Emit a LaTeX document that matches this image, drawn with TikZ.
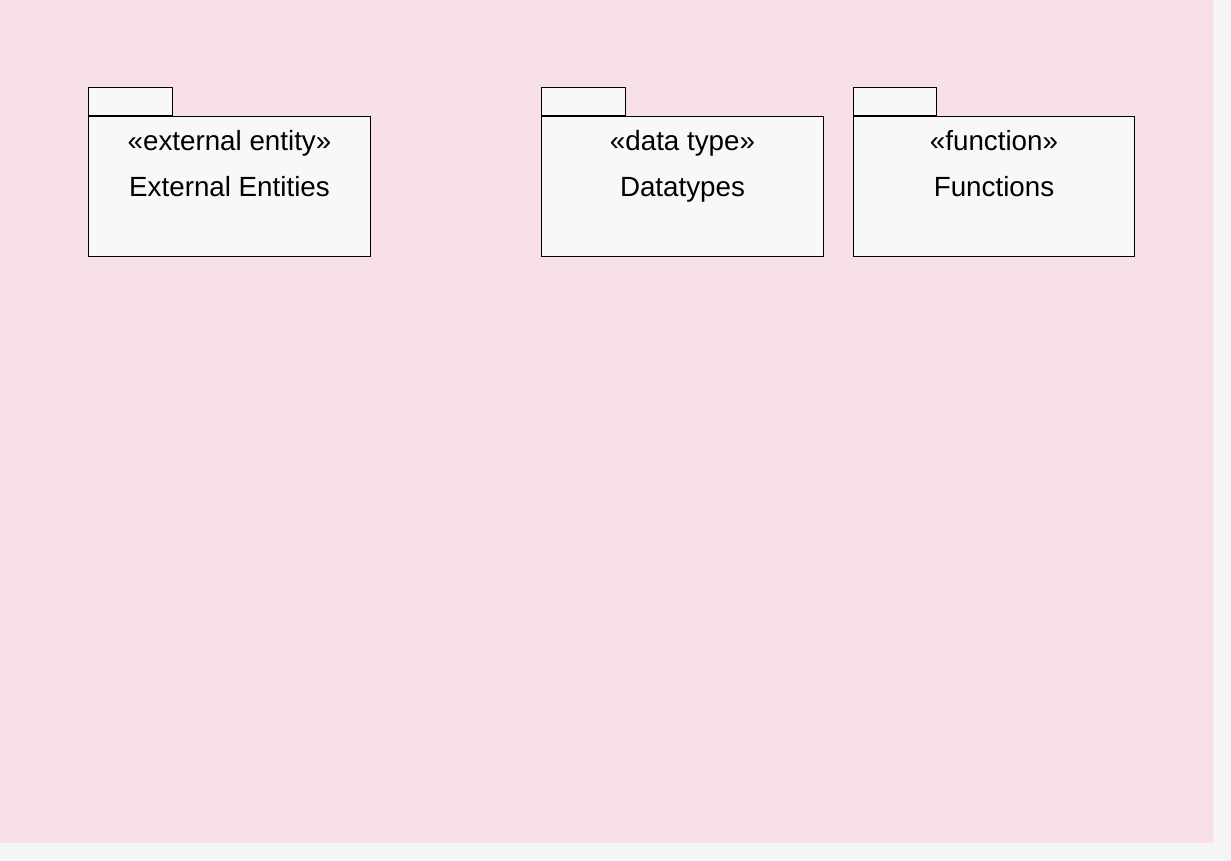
\documentclass[tikz,border=0pt]{standalone}
\usepackage{fontspec}
\setmainfont{Liberation Sans}
\definecolor{diagpink}{RGB}{247,224,230}
\definecolor{pkgfill}{RGB}{248,248,248}
\definecolor{pagegray}{RGB}{245,245,245}
\usetikzlibrary{positioning,calc}

\begin{document}
\begin{tikzpicture}[x=0.02cm, y=-0.02cm,
    pkgbody/.style={draw, line width=0.6pt, fill=pkgfill, minimum width=5.64cm,
                minimum height=2.8cm, inner sep=0pt, anchor=north west},
    pkgtab/.style={draw, line width=0.6pt, fill=pkgfill, minimum width=1.68cm,
                minimum height=0.56cm, inner sep=0pt, anchor=south west},
    pkgtext/.style={anchor=base, font=\fontsize{15.8}{19}\selectfont, inner sep=0pt}
  ]
    % Page and diagram area
    \fill[pagegray] (0,0) rectangle (1231,861);
    \fill[diagpink] (0,0) rectangle (1213,843);

    % External entities package
    \node[pkgbody] (extbody) at (88,116) {};
    \node[pkgtab]  (exttab)  at (extbody.north west) {};
    \node[pkgtext] (extster) at ($(extbody.north)+(0,35)$) {«external entity»};
    \node[pkgtext] (extname) at ($(extbody.north)+(0,81)$) {External Entities};

    % Datatypes package
    \node[pkgbody] (dtbody) at (541,116) {};
    \node[pkgtab]  (dttab)  at (dtbody.north west) {};
    \node[pkgtext] (dtster) at ($(dtbody.north)+(0,35)$) {«data type»};
    \node[pkgtext] (dtname) at ($(dtbody.north)+(0,81)$) {Datatypes};

    % Functions package
    \node[pkgbody, minimum width=5.62cm] (fnbody) at (853,116) {};
    \node[pkgtab, minimum width=1.66cm]  (fntab)  at (fnbody.north west) {};
    \node[pkgtext] (fnster) at ($(fnbody.north)+(0,35)$) {«function»};
    \node[pkgtext] (fnname) at ($(fnbody.north)+(0,81)$) {Functions};
\end{tikzpicture}
\end{document}
